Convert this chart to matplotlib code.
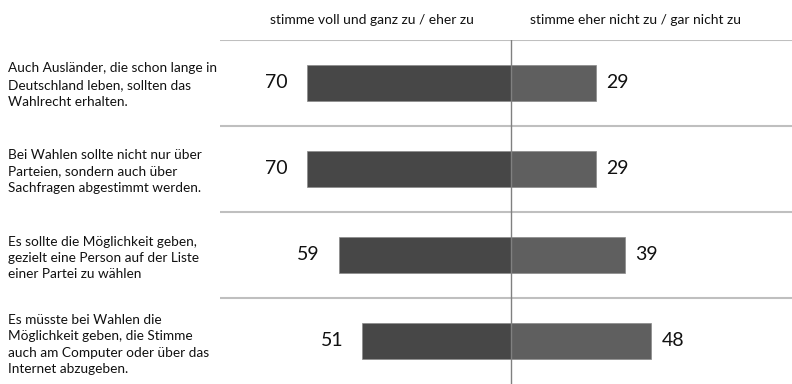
import matplotlib
matplotlib.use("Agg")
import matplotlib.pyplot as plt

plt.rcParams["font.family"] = ["Lato", "DejaVu Sans"]

statements = [
    "Auch Ausländer, die schon lange in\nDeutschland leben, sollten das\nWahlrecht erhalten.",
    "Bei Wahlen sollte nicht nur über\nParteien, sondern auch über\nSachfragen abgestimmt werden.",
    "Es sollte die Möglichkeit geben,\ngezielt eine Person auf der Liste\neiner Partei zu wählen",
    "Es müsste bei Wahlen die\nMöglichkeit geben, die Stimme\nauch am Computer oder über das\nInternet abzugeben.",
]
agree = [70, 70, 59, 51]
disagree = [29, 29, 39, 48]
header_agree = "stimme voll und ganz zu / eher zu"
header_disagree = "stimme eher nicht zu / gar nicht zu"

W, H = 792, 384
fig = plt.figure(figsize=(W / 100, H / 100), dpi=100)
ax = fig.add_axes([220 / W, 0, (W - 220) / W, (H - 40) / H])

rows = list(range(len(statements)))
ax.barh(rows, [-a for a in agree], height=0.41, color="#474747",
        edgecolor="#8a8a8a", linewidth=0.5)
ax.barh(rows, disagree, height=0.41, color="#5f5f5f",
        edgecolor="#8a8a8a", linewidth=0.5)

for i, (a, d) in enumerate(zip(agree, disagree)):
    ax.text(-a - 6.5, i, str(a), ha="right", va="center", fontsize=14, color="#111111")
    ax.text(d + 3.5, i, str(d), ha="left", va="center", fontsize=14, color="#111111")

# row separators and the zero line
for y in [-0.5, 0.5, 1.5, 2.5]:
    ax.axhline(y, color="#bfbfbf", linewidth=1.5, zorder=0)
ax.axvline(0, color="#808080", linewidth=1.0, zorder=3)

ax.set_xlim(-99.7, 96.2)
ax.set_ylim(3.5, -0.5)
ax.axis("off")

for i, s in enumerate(statements):
    fig.text(8 / W, 1 - (85 + 86.5 * i) / H, s, ha="left", va="center",
             fontsize=9.8, linespacing=1.45, color="#111111")

fig.text(372 / W, 1 - 20 / H, header_agree, ha="center", va="center",
         fontsize=10, color="#111111")
fig.text(636 / W, 1 - 20 / H, header_disagree, ha="center", va="center",
         fontsize=10, color="#111111")

fig.savefig("out.png", dpi=100)
